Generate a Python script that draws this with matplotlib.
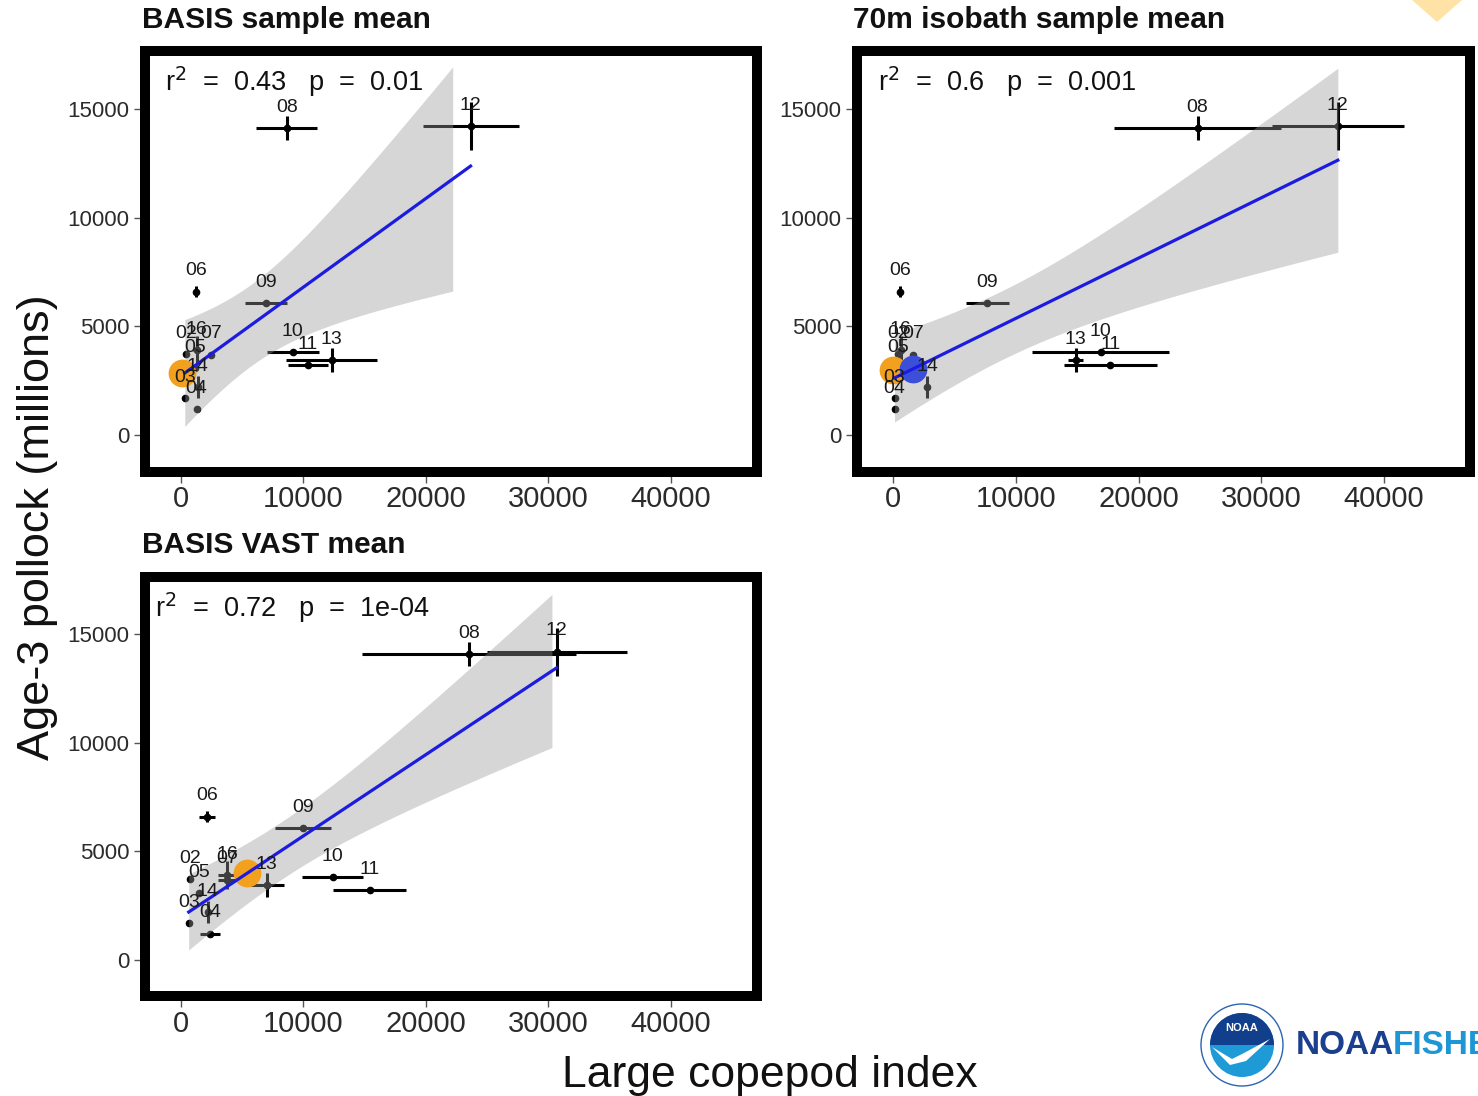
import numpy as np
import matplotlib.pyplot as plt
from matplotlib.patches import Polygon, Circle, Wedge

plt.rcParams['font.family'] = ['Liberation Sans', 'DejaVu Sans']

# --- datos ---
years = ['02', '03', '04', '05', '06', '07', '08', '09', '10', '11', '12', '13', '14', '16']
# Age-3 pollock (millions) y su error (vertical)
pollock = [3730, 1700, 1200, 3080, 6600, 3700, 14100, 6070, 3800, 3220, 14200, 3450, 2200, 3900]
pollock_err = [0, 0, 0, 0, 250, 0, 550, 0, 0, 0, 1100, 550, 500, 650]

# Large copepod index en cada panel (x) y su error (horizontal)
basis_x = [410, 330, 1300, 1200, 1220, 2450, 8650, 6940, 9140, 10360, 23660, 12320, 1390, 1300]
basis_xerr = [0, 0, 0, 0, 200, 0, 2490, 1710, 2120, 1630, 3920, 3710, 0, 300]

iso70_x = [400, 100, 100, 400, 570, 1630, 24800, 7670, 16890, 17700, 36230, 14850, 2770, 600]
iso70_xerr = [0, 0, 0, 0, 150, 0, 6820, 1750, 5550, 3760, 5390, 600, 0, 300]

vast_x = [730, 650, 2370, 1470, 2120, 3800, 23500, 9950, 12400, 15420, 30680, 7020, 2200, 3800]
vast_xerr = [0, 0, 820, 0, 650, 800, 8730, 2290, 2480, 2980, 5720, 1400, 0, 800]

# hasta dónde llega la banda gris en cada panel
band_end = [22200, 36230, 30300]

# puntos destacados (círculos grandes)
orange_pts = [(80, 2850), (0, 2990), (5380, 4000)]
blue_pts = [None, (1630, 3030), None]

titles = ['BASIS sample mean', '70m isobath sample mean', 'BASIS VAST mean']
stats = [r'r$^2$  =  0.43   p  =  0.01', r'r$^2$  =  0.6   p  =  0.001',
         r'r$^2$  =  0.72   p  =  1e-04']

T_975_DF12 = 2.179  # t de Student, 95 %, n-2 = 12

fig = plt.figure(figsize=(14.78, 10.96), dpi=100)
W, H = 1478, 1096

# posiciones en píxeles: (izq, der, arriba, abajo)
boxes = [(144.5, 756.5, 51, 471.5), (857, 1470, 51, 471.5), (144.5, 756.5, 577, 996)]
title_pos = [(142, 20), (853, 20), (142, 545)]
stat_x = [0.034, 0.034, 0.017]
xs_all = [basis_x, iso70_x, vast_x]
xerr_all = [basis_xerr, iso70_xerr, vast_xerr]

for i in range(3):
    l, r, t, b = boxes[i]
    ax = fig.add_axes([l / W, 1 - b / H, (r - l) / W, (b - t) / H])
    x = np.array(xs_all[i], dtype=float)
    y = np.array(pollock, dtype=float)

    ax.errorbar(x, y, xerr=xerr_all[i], yerr=pollock_err, fmt='o', color='black',
                ms=4.5, elinewidth=2.2, capsize=0, zorder=2)

    # ajuste lineal con banda de confianza (como geom_smooth)
    slope, icpt = np.polyfit(x, y, 1)
    n = len(x)
    resid = y - (icpt + slope * x)
    s = np.sqrt(np.sum(resid ** 2) / (n - 2))
    sxx = np.sum((x - x.mean()) ** 2)
    xf = np.linspace(x.min(), x.max(), 200)
    yf = icpt + slope * xf
    xb = np.linspace(x.min(), band_end[i], 200)
    yb = icpt + slope * xb
    se = s * np.sqrt(1 / n + (xb - x.mean()) ** 2 / sxx)
    ax.fill_between(xb, yb - T_975_DF12 * se, yb + T_975_DF12 * se,
                    color='#999999', alpha=0.4, lw=0, zorder=3)

    ox, oy = orange_pts[i]
    ax.plot(ox, oy, 'o', color='#F2A11F', ms=19, zorder=4)
    if blue_pts[i] is not None:
        bx, by = blue_pts[i]
        ax.plot(bx, by, 'o', color='#3B4FD9', ms=19, zorder=4)

    ax.plot(xf, yf, color='#1C1CE0', lw=2.3, zorder=5)

    for yr, xi, yi in zip(years, x, y):
        ax.annotate(yr, (xi, yi), xytext=(0, 15), textcoords='offset points',
                    ha='center', va='center', fontsize=14, color='#1a1a1a', zorder=6)

    ax.text(stat_x[i], 0.905, stats[i], transform=ax.transAxes, fontsize=19.5,
            color='#111111', va='baseline', ha='left', zorder=7)

    ax.set_xlim(-2960, 47000)
    ax.set_ylim(-1670, 17650)
    ax.set_xticks([0, 10000, 20000, 30000, 40000])
    ax.set_yticks([0, 5000, 10000, 15000])
    ax.tick_params(axis='x', labelsize=21, length=8, width=1, color='#555555',
                   labelcolor='#2b2b2b', pad=2)
    ax.tick_params(axis='y', labelsize=16, length=8, width=1, color='#555555',
                   labelcolor='#2b2b2b', pad=3)
    for sp in ax.spines.values():
        sp.set_linewidth(7.2)
        sp.set_color('black')

    tx, ty = title_pos[i]
    fig.text(tx / W, 1 - ty / H, titles[i], fontsize=21.5, fontweight='bold',
             color='#111111', ha='left', va='center')

fig.text(38 / W, 0.519, 'Age-3 pollock (millions)', rotation=90, fontsize=32.5,
         color='#111111', ha='center', va='center')
fig.text(770 / W, 1 - 1075 / H, 'Large copepod index', fontsize=32,
         color='#111111', ha='center', va='center')

# decoración: triángulo arriba a la derecha y logo NOAA
deco = fig.add_axes([0, 0, 1, 1], zorder=10)
deco.set_xlim(0, W)
deco.set_ylim(H, 0)
deco.axis('off')
deco.patch.set_alpha(0)
deco.add_patch(Polygon([(1412, 0), (1462, 0), (1437, 22)], closed=True,
                       color='#FFE3A6', lw=0))

cx, cy = 1242, 1045
deco.add_patch(Circle((cx, cy), 41, facecolor='white', edgecolor='#2B64B3', lw=1))
deco.add_patch(Circle((cx, cy), 32, facecolor='#1E9AD6', edgecolor='none'))
deco.add_patch(Wedge((cx, cy), 32, 180, 360, facecolor='#123F8C', edgecolor='none'))
deco.add_patch(Polygon([(cx - 30, cy + 2), (cx - 10, cy + 14), (cx + 2, cy + 8),
                        (cx + 28, cy - 6), (cx + 4, cy + 16), (cx - 12, cy + 20)],
                       closed=True, facecolor='white', edgecolor='none'))
deco.text(cx, cy - 17, 'NOAA', color='white', fontsize=8, fontweight='bold',
          ha='center', va='center')
deco.text(1296, cy, 'NOAA', color='#1B3F8F', fontsize=24, fontweight='bold',
          ha='left', va='center')
deco.text(1393, cy, 'FISHE', color='#1E96D6', fontsize=24, fontweight='bold',
          ha='left', va='center')

fig.savefig('out.png', dpi=100)
